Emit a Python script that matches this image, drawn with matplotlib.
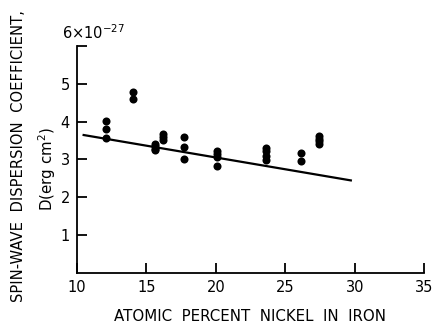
import numpy as np
import matplotlib
matplotlib.use("Agg")
import matplotlib.pyplot as plt

# data
nickel = [12.1, 12.1, 12.1,
          14.0, 14.0,
          15.6, 15.6, 15.6, 15.6,
          16.2, 16.2, 16.2,
          17.7, 17.7, 17.7,
          20.1, 20.1, 20.1, 20.1,
          23.6, 23.6, 23.6, 23.6,
          26.1, 26.1,
          27.4, 27.4, 27.4, 27.4]
disp = [4.02, 3.80, 3.57,
        4.78, 4.60,
        3.42, 3.35, 3.28, 3.24,
        3.68, 3.60, 3.52,
        3.60, 3.32, 3.01,
        3.22, 3.15, 3.06, 2.83,
        3.30, 3.21, 3.10, 2.98,
        3.18, 2.95,
        3.62, 3.55, 3.48, 3.41]
fit_x = [10.4, 29.8]
fit_y = [3.65, 2.44]
xticks = [10, 15, 20, 25, 30, 35]
yticks = [1, 2, 3, 4, 5]

plt.rcParams['font.family'] = ['DejaVu Sans']
fig = plt.figure(figsize=(4.35, 3.26), dpi=100)
ax = fig.add_axes([0.177, 0.163, 0.798, 0.696])

ax.plot(fit_x, fit_y, color='black', lw=1.6, solid_capstyle='butt')
ax.plot(nickel, disp, 'o', color='black', ms=5.8, mew=0)

ax.set_xlim(10, 35)
ax.set_ylim(0, 6)
for s in ['top', 'right']:
    ax.spines[s].set_visible(False)
for s in ['left', 'bottom']:
    ax.spines[s].set_linewidth(1.3)

ax.set_xticks(xticks)
ax.set_xticklabels([str(v) for v in xticks], fontsize=10.5)
ax.set_yticks(yticks + [6])
ax.set_yticklabels([str(v) for v in yticks] + [''], fontsize=10.5)
ax.tick_params(direction='in', length=7, width=1.3, pad=5)

fig.text(0.143, 0.9, r'6$\times$10$^{-27}$', fontsize=10.5, ha='left', va='center')
fig.text(0.575, 0.03, 'ATOMIC  PERCENT  NICKEL  IN  IRON', fontsize=10.8,
         ha='center', va='center')
fig.text(0.042, 0.52, 'SPIN-WAVE  DISPERSION  COEFFICIENT,', fontsize=10.6,
         rotation=90, ha='center', va='center')
fig.text(0.108, 0.48, r'D(erg cm$^2$)', fontsize=10.8,
         rotation=90, ha='center', va='center')

fig.savefig('out.png', dpi=100)
